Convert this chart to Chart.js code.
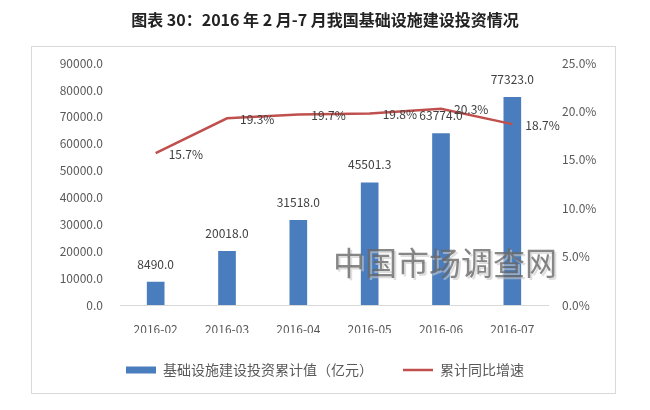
<!DOCTYPE html>
<html>
<head>
<meta charset="utf-8">
<script src="https://cdn.jsdelivr.net/npm/chart.js@4"></script>
<style>
  html, body { margin: 0; padding: 0; background: #fff; }
  #wrap { width: 650px; height: 410px; }
</style>
</head>
<body>
<div id="wrap"><canvas id="myChart" width="650" height="410"></canvas></div>
<script>
// dados do gráfico
const months = ['2016-02', '2016-03', '2016-04', '2016-05', '2016-06', '2016-07'];
const investment = [8490.0, 20018.0, 31518.0, 45501.3, 63774.0, 77323.0];
const growth = [15.7, 19.3, 19.7, 19.8, 20.3, 18.7];
const leftTicks = [0, 10000, 20000, 30000, 40000, 50000, 60000, 70000, 80000, 90000];
const rightTicks = [0, 5, 10, 15, 20, 25];

const FONT = '"Noto Sans CJK SC", "Noto Sans", sans-serif';
const grey = '#595959';

// moldura, rótulos e marca d'água
const extras = {
    id: 'extras',
    beforeDraw(chart) {
        const ctx = chart.ctx;
        ctx.save();
        ctx.strokeStyle = '#d9d9d9';
        ctx.lineWidth = 1;
        ctx.strokeRect(31.5, 46.5, 584, 347);
        ctx.restore();
    },
    afterDatasetsDraw(chart) {
        const ctx = chart.ctx;
        ctx.save();
        ctx.font = '12px ' + FONT;
        ctx.fillStyle = '#404040';
        // valores das barras
        ctx.textAlign = 'center';
        ctx.textBaseline = 'middle';
        chart.getDatasetMeta(0).data.forEach((bar, i) => {
            ctx.fillText(investment[i].toFixed(1), bar.x, bar.y - 18);
        });
        // valores da linha
        ctx.textAlign = 'left';
        chart.getDatasetMeta(1).data.forEach((pt, i) => {
            ctx.fillText(growth[i].toFixed(1) + '%', pt.x + 13, pt.y + 1);
        });
        ctx.restore();
    },
    afterDraw(chart) {
        const ctx = chart.ctx;
        ctx.save();
        ctx.font = '32px ' + FONT;
        ctx.textAlign = 'left';
        ctx.textBaseline = 'middle';
        ctx.fillStyle = 'rgba(200,200,200,0.6)';
        ctx.fillText('中国市场调查网', 335, 265);
        ctx.fillStyle = 'rgba(105,105,105,0.8)';
        ctx.fillText('中国市场调查网', 333, 263);
        ctx.restore();
    }
};

const grafico = document.getElementById('myChart');
new Chart(grafico, {
    type: 'bar',
    data: {
        labels: months,
        datasets: [{
            type: 'bar',
            label: '基础设施建设投资累计值（亿元）',
            data: investment,
            backgroundColor: '#4a7dbd',
            borderWidth: 0,
            barThickness: 17,
            yAxisID: 'y',
            order: 2,
            pointStyle: 'rect'
        }, {
            type: 'line',
            label: '累计同比增速',
            data: growth,
            borderColor: '#c0504d',
            backgroundColor: '#c0504d',
            borderWidth: 2.5,
            pointRadius: 0,
            tension: 0,
            yAxisID: 'y1',
            order: 1,
            pointStyle: 'line'
        }]
    },
    options: {
        responsive: false,
        animation: false,
        layout: { padding: { left: 0, right: 0, top: 0, bottom: 23 } },
        plugins: {
            title: {
                display: true,
                text: '图表 30：2016 年 2 月-7 月我国基础设施建设投资情况',
                color: '#222',
                font: { family: FONT, size: 16, weight: 'bold' },
                padding: { top: 10, bottom: 34 }
            },
            legend: {
                position: 'bottom',
                labels: {
                    usePointStyle: true,
                    pointStyleWidth: 30,
                    boxHeight: 7,
                    padding: 30,
                    color: grey,
                    font: { family: FONT, size: 14 },
                    sort: (a, b) => a.datasetIndex - b.datasetIndex
                }
            },
            tooltip: { enabled: false }
        },
        scales: {
            x: {
                grid: { display: false, drawTicks: false },
                border: { color: '#d9d9d9' },
                ticks: { color: grey, font: { family: FONT, size: 12 }, padding: 17 },
                afterFit: (s) => { s.height = 28; }
            },
            y: {
                position: 'left',
                min: 0,
                max: 90000,
                grid: { display: false, drawTicks: false },
                border: { display: false },
                afterBuildTicks: (s) => { s.ticks = leftTicks.map(v => ({ value: v })); },
                ticks: {
                    color: grey,
                    font: { family: FONT, size: 12 },
                    padding: 17,
                    callback: (v) => v.toFixed(1)
                },
                afterFit: (s) => { s.width = 120; }
            },
            y1: {
                position: 'right',
                min: 0,
                max: 25,
                grid: { display: false, drawTicks: false },
                border: { display: false },
                afterBuildTicks: (s) => { s.ticks = rightTicks.map(v => ({ value: v })); },
                ticks: {
                    color: grey,
                    font: { family: FONT, size: 12 },
                    padding: 14,
                    callback: (v) => v.toFixed(1) + '%'
                },
                afterFit: (s) => { s.width = 102; }
            }
        }
    },
    plugins: [extras]
});
</script>
</body>
</html>
